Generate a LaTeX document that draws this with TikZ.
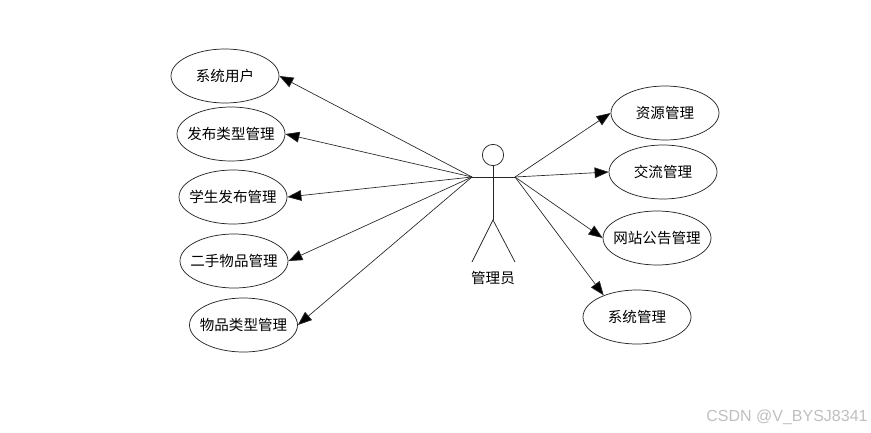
\documentclass[tikz,border=0pt]{standalone}
\usepackage{fontspec}
\setmainfont{Liberation Sans}
\newfontfamily\cjk{Noto Sans CJK SC}
\usetikzlibrary{shapes.geometric,arrows.meta}
\tikzset{
  usecase/.style={ellipse, draw=black!85, line width=0.55pt, fill=white, minimum width=81pt, minimum height=40.5pt, inner xsep=-10pt, inner ysep=-2pt, font=\cjk\fontsize{10.9pt}{12pt}\selectfont},
  actorline/.style={draw=black!85, line width=0.55pt},
  assoc/.style={draw=black!85, line width=0.5pt, -{Triangle[length=10.5pt,width=8pt,fill=black]}}
}
\begin{document}
\begin{tikzpicture}[x=0.75pt,y=-0.75pt]
\useasboundingbox (0,0) rectangle (871,432);
\node[usecase] (yonghu) at (225,76) {系统用户};
\node[usecase] (fabulx) at (231,134) {发布类型管理};
\node[usecase] (xuesheng) at (233,197) {学生发布管理};
\node[usecase] (ershou) at (234,261) {二手物品管理};
\node[usecase] (wupinlx) at (243.5,325) {物品类型管理};
\node[usecase] (ziyuan) at (665,113) {资源管理};
\node[usecase] (jiaoliu) at (663,172) {交流管理};
\node[usecase] (gonggao) at (657,238) {网站公告管理};
\node[usecase] (xitong) at (637,317) {系统管理};
% actor
\node[circle, actorline, minimum size=16pt, inner sep=0pt] (head) at (493,155) {};
\coordinate (armL) at (472,177);
\coordinate (armR) at (515,177);
\coordinate (hip) at (493,220);
\coordinate (footL) at (472,262);
\coordinate (footR) at (515,262);
\draw[actorline] (head) -- (hip);
\draw[actorline] (armL) -- (armR);
\draw[actorline] (footL) -- (hip) -- (footR);
\node[font=\cjk\fontsize{10.9pt}{12pt}\selectfont, inner sep=0pt] (guanli) at (493,278) {管理员};
% left side
\draw[assoc] (armL) -- (yonghu.east);
\draw[assoc] (armL) -- (fabulx.east);
\draw[assoc] (armL) -- (xuesheng.east);
\draw[assoc] (armL) -- (ershou.east);
\draw[assoc] (armL) -- (wupinlx.east);
% right side
\draw[assoc] (armR) -- (ziyuan.west);
\draw[assoc] (armR) -- (jiaoliu.west);
\draw[assoc] (armR) -- (gonggao.west);
\draw[assoc] (armR) -- (xitong.147);
\node[text=black!25, font=\fontsize{12pt}{14pt}\selectfont, inner sep=0pt] (mark) at (787,417) {CSDN @V\_BYSJ8341};
\end{tikzpicture}
\end{document}
